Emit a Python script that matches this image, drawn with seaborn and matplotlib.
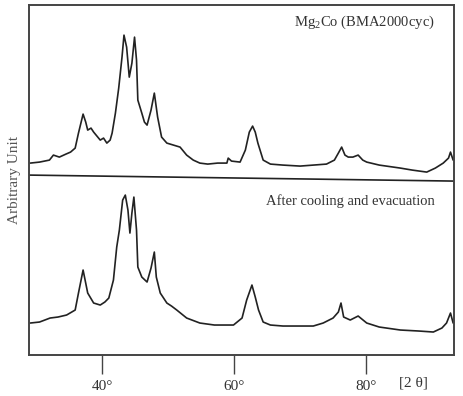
import numpy as np
import pandas as pd
import matplotlib
matplotlib.use("Agg")
import matplotlib.pyplot as plt
import seaborn as sns

sns.set_style("white")
plt.rcParams['font.family'] = ['Liberation Serif', 'DejaVu Serif']
plt.rcParams['mathtext.fontset'] = 'custom'
plt.rcParams['mathtext.rm'] = 'Liberation Serif'

# two theta (deg) and stacked intensity (arbitrary units)
theta_top = [29.1, 30.5, 32.0, 32.6, 33.5, 34.5, 35.2, 35.9, 36.4, 37.1, 37.5, 37.8, 38.3, 38.7,
             39.2, 39.7, 40.2, 40.7, 41.2, 41.5, 42.0, 42.5, 43.0, 43.3, 43.7, 44.1, 44.5, 44.9,
             45.2, 45.4, 46.0, 46.4, 46.8, 47.4, 47.9, 48.4, 49.0, 49.8, 50.8, 51.8, 52.8, 53.8,
             54.8, 56.0, 57.5, 58.9, 59.1, 59.6, 60.9, 61.7, 62.3, 62.8, 63.2, 63.6, 64.4, 65.5,
             67.4, 70.0, 72.0, 74.0, 75.2, 75.8, 76.3, 76.8, 77.3, 78.0, 78.8, 79.5, 80.1, 82.0,
             85.2, 87.0, 89.2, 90.5, 91.7, 92.5, 92.8, 93.2]
int_top = [192, 193, 195, 200, 198, 201, 203, 207, 222, 241, 233, 225, 227, 223,
           219, 215, 217, 212, 215, 222, 242, 267, 298, 320, 308, 278, 292, 318,
           295, 255, 242, 233, 230, 245, 262, 238, 218, 212, 210, 208, 200, 195,
           192, 191, 192, 192, 197, 194, 193, 205, 223, 229, 223, 212, 195, 191,
           190, 189, 190, 191, 195, 202, 208, 200, 198, 198, 200, 195, 193, 190,
           187, 185, 183, 187, 192, 197, 203, 195]

theta_bot = [29.1, 30.5, 32.1, 33.3, 34.6, 35.9, 36.4, 37.1, 37.8, 38.7, 39.7, 40.4, 41.0, 41.7,
             42.2, 42.6, 43.1, 43.5, 43.9, 44.2, 44.5, 44.8, 45.2, 45.4, 46.0, 46.8, 47.4, 47.9,
             48.2, 48.8, 49.8, 50.5, 51.3, 52.8, 54.8, 57.0, 59.9, 61.2, 61.9, 62.7, 63.2, 63.7,
             64.4, 65.5, 67.4, 70.0, 72.0, 73.5, 75.0, 75.8, 76.2, 76.6, 77.6, 78.8, 80.1, 82.0,
             85.2, 88.0, 90.2, 91.5, 92.2, 92.8, 93.2]
int_bot = [32, 33, 37, 38, 40, 45, 62, 85, 62, 52, 50, 53, 57, 75,
           108, 125, 155, 160, 145, 122, 142, 158, 125, 88, 78, 73, 87, 103,
           78, 62, 52, 49, 45, 37, 32, 30, 30, 37, 55, 70, 58, 45,
           33, 30, 29, 29, 29, 32, 37, 43, 52, 38, 35, 39, 32, 28,
           25, 24, 23, 27, 32, 42, 32]

labels = ["Mg$_2$Co (BMA2000cyc)", "After cooling and evacuation"]
tick_pos = [40, 60, 80]

df = pd.concat([
    pd.DataFrame({"theta": theta_top, "intensity": int_top, "sample": labels[0]}),
    pd.DataFrame({"theta": theta_bot, "intensity": int_bot, "sample": labels[1]}),
])

fig = plt.figure(figsize=(4.64, 3.96), dpi=100)
ax = fig.add_axes([0.0625, 0.1035, 0.9155, 0.8835])
sns.lineplot(data=df, x="theta", y="intensity", units="sample", estimator=None,
             color="#222222", linewidth=1.2, sort=False, ax=ax, legend=False)

xmin, xmax = 28.9, 93.3
ax.plot([xmin, xmax], [180, 174], color="#222222", linewidth=1.2)
ax.set_xlim(xmin, xmax)
ax.set_ylim(0, 350)

ax.set_xticks(tick_pos)
ax.set_xticklabels([f"{t}°" for t in tick_pos], fontsize=11, color="#333333")
ax.tick_params(axis="x", direction="out", length=14, width=1, color="#444444",
               pad=4, bottom=True)
ax.set_yticks([])
ax.set_xlabel("")
ax.set_ylabel("Arbitrary Unit", fontsize=11, color="#555555", labelpad=6)
for s in ax.spines.values():
    s.set_color("#444444")
    s.set_linewidth(1.4)

ax.text(0.955, 0.95, labels[0], transform=ax.transAxes, ha="right", va="center",
        fontsize=10.5, color="#333333")
ax.text(0.955, 0.44, labels[1], transform=ax.transAxes, ha="right", va="center",
        fontsize=10.5, color="#333333")
ax.text(0.905, -0.08, "[2 θ]", transform=ax.transAxes, ha="center", va="center",
        fontsize=11, color="#333333")

fig.savefig("out.png", dpi=100)
